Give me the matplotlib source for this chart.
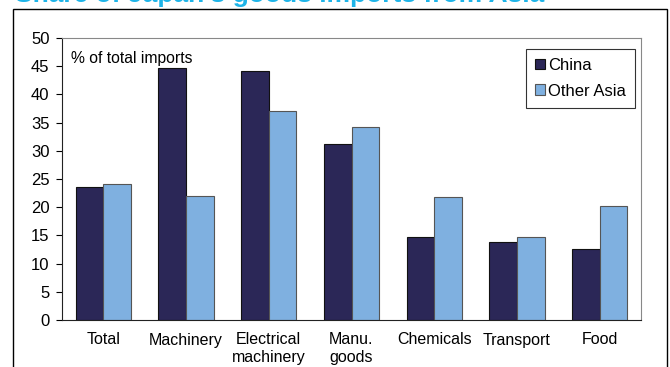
import numpy as np
import matplotlib.pyplot as plt
from matplotlib.patches import Rectangle

plt.rcParams['font.family'] = ['Liberation Sans', 'DejaVu Sans']

categories = ['Total', 'Machinery', 'Electrical\nmachinery', 'Manu.\ngoods',
              'Chemicals', 'Transport', 'Food']
china = [23.5, 44.6, 44.2, 31.2, 14.7, 13.8, 12.6]
other_asia = [24.2, 22.0, 37.0, 34.2, 21.8, 14.8, 20.3]

fig = plt.figure(figsize=(6.7, 3.67), dpi=100)
ax = fig.add_axes([62/670, 1 - 320/367, 579/670, 282/367])

x = np.arange(len(categories))
w = 0.335
ax.bar(x - w/2, china, w, color='#2b2757', edgecolor='#111111', linewidth=0.8, label='China')
ax.bar(x + w/2, other_asia, w, color='#7fb0e0', edgecolor='#555555', linewidth=0.8, label='Other Asia')

ax.set_xlim(-0.5, len(categories) - 0.5)
ax.set_ylim(0, 50)
ax.set_yticks(range(0, 51, 5))
ax.set_xticks(x)
ax.set_xticklabels(categories, fontsize=11.5, linespacing=1.2)
ax.tick_params(axis='x', length=0, pad=9)
ax.tick_params(axis='y', labelsize=12, direction='out', length=4, width=0.8, pad=5)
for s in ['left', 'bottom']:
    ax.spines[s].set_color('#222222')
for s in ['top', 'right']:
    ax.spines[s].set_color('#888888')

ax.text(0.016, 0.955, '% of total imports', transform=ax.transAxes,
        fontsize=11.3, va='top', ha='left')

leg = ax.legend(loc='upper right', bbox_to_anchor=(0.999, 0.98), fontsize=12,
                frameon=True, fancybox=False, edgecolor='black',
                handlelength=0.6, handleheight=0.6, handletextpad=0.2,
                labelspacing=0.65, borderpad=0.55, borderaxespad=0.3)
leg.get_frame().set_linewidth(0.8)

# outer frame around the panel
fig.patches.append(Rectangle((13/670, -0.05), 654/670, 1.05 - 9/367,
                             transform=fig.transFigure, fill=False,
                             edgecolor='black', linewidth=1.0))

fig.text(15/670, 1 - 2/367, "Share of Japan's goods imports from Asia",
         fontsize=19, fontweight='bold', color='#1eb4e8', ha='left', va='baseline')

fig.savefig('out.png', dpi=100)
